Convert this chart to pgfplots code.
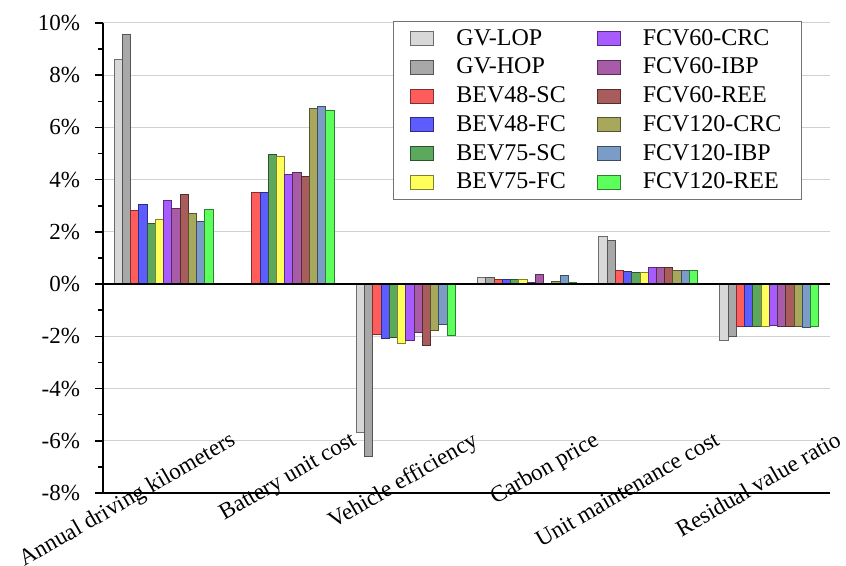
\documentclass[border=0pt]{standalone}
\usepackage{pgfplots}
\pgfplotsset{compat=1.18}
\usepackage{pgfplotstable}
\usepackage{fontspec}
\setmainfont{Liberation Serif}

\definecolor{cGVL}{HTML}{D8D8D8}
\definecolor{cGVH}{HTML}{A8A8A8}
\definecolor{cB48S}{HTML}{FF5C5C}
\definecolor{cB48F}{HTML}{5C5CFF}
\definecolor{cB75S}{HTML}{5CA85C}
\definecolor{cB75F}{HTML}{FFFF5C}
\definecolor{cF60C}{HTML}{A85CFF}
\definecolor{cF60I}{HTML}{A85CA8}
\definecolor{cF60R}{HTML}{A85C5C}
\definecolor{cF120C}{HTML}{A8A85C}
\definecolor{cF120I}{HTML}{7A9CC6}
\definecolor{cF120R}{HTML}{5CFF5C}

\pgfplotstableread{
cat GVLOP GVHOP BEV48SC BEV48FC BEV75SC BEV75FC FCV60CRC FCV60IBP FCV60REE FCV120CRC FCV120IBP FCV120REE
0 8.62 9.57 2.81 3.03 2.31 2.48 3.22 2.89 3.43 2.69 2.40 2.87
1 nan nan 3.51 3.49 4.95 4.88 4.19 4.26 4.14 6.72 6.82 6.64
2 -5.69 -6.62 -1.94 -2.10 -2.06 -2.26 -2.15 -1.85 -2.34 -1.79 -1.55 -1.97
3 0.27 0.25 0.19 0.19 0.19 0.19 0.06 0.38 0.03 0.09 0.32 0.05
4 1.82 1.66 0.51 0.48 0.45 0.45 0.62 0.65 0.62 0.53 0.53 0.51
5 -2.15 -1.99 -1.61 -1.61 -1.64 -1.62 -1.59 -1.62 -1.61 -1.64 -1.68 -1.63
}\datatable

\begin{document}
\begin{tikzpicture}
\path[use as bounding box] (-51.5pt,-36.5pt) rectangle (371.5pt,246.5pt);
\begin{axis}[
  anchor=south west, at={(0pt,0pt)},
  scale only axis,
  width=363.5pt, height=235pt,
  ybar=0pt, bar width=0.068,
  xmin=-0.5, xmax=5.5,
  ymin=-8, ymax=10,
  axis x line=bottom, axis y line=left,
  axis line style={line width=1pt, -},
  xtick={0,1,2,3,4,5},
  xticklabels={Annual driving kilometers, Battery unit cost, Vehicle efficiency, Carbon price, Unit maintenance cost, Residual value ratio},
  x tick style={draw=none},
  xticklabel style={font=\fontsize{11.6}{12}\selectfont, inner sep=0pt, xshift=32.5pt, yshift=35.5pt, rotate=30, anchor=north east},
  ytick={-8,-6,...,10},
  minor y tick num=1,
  tick align=outside,
  y tick style={line width=0.8pt, black},
  major tick length=4pt, minor tick length=2.5pt,
  ymajorgrids, major grid style={draw=black!18, line width=0.5pt},
  /pgf/number format/assume math mode=true,
  yticklabel={\pgfmathprintnumber{\tick}\%},
  yticklabel style={font=\fontsize{11.5}{12}\selectfont, xshift=-4pt},
  every axis plot/.append style={line width=0.5pt},
  area legend,
  legend columns=6, transpose legend,
  legend cell align=left,
  legend image code/.code={\draw[#1] (0pt,-3.5pt) rectangle (11.5pt,3.5pt); \path (-4pt,0pt) (17pt,0pt);},
  legend style={at={(0.9615,1.004)}, anchor=north east, draw=black!55, line width=0.5pt, fill=white,
    font=\fontsize{12}{12}\selectfont, row sep=0.9pt, inner xsep=4.5pt, inner ysep=1.8pt,
    /tikz/every even column/.append style={column sep=6pt},
    nodes={inner xsep=5.5pt}},
]
\addplot[fill=cGVL, draw=cGVL!50!black] table[x=cat, y=GVLOP] {\datatable}; \addlegendentry{GV-LOP}
\addplot[fill=cGVH, draw=cGVH!50!black] table[x=cat, y=GVHOP] {\datatable}; \addlegendentry{GV-HOP}
\addplot[fill=cB48S, draw=cB48S!50!black] table[x=cat, y=BEV48SC] {\datatable}; \addlegendentry{BEV48-SC}
\addplot[fill=cB48F, draw=cB48F!50!black] table[x=cat, y=BEV48FC] {\datatable}; \addlegendentry{BEV48-FC}
\addplot[fill=cB75S, draw=cB75S!50!black] table[x=cat, y=BEV75SC] {\datatable}; \addlegendentry{BEV75-SC}
\addplot[fill=cB75F, draw=cB75F!50!black] table[x=cat, y=BEV75FC] {\datatable}; \addlegendentry{BEV75-FC}
\addplot[fill=cF60C, draw=cF60C!50!black] table[x=cat, y=FCV60CRC] {\datatable}; \addlegendentry{FCV60-CRC}
\addplot[fill=cF60I, draw=cF60I!50!black] table[x=cat, y=FCV60IBP] {\datatable}; \addlegendentry{FCV60-IBP}
\addplot[fill=cF60R, draw=cF60R!50!black] table[x=cat, y=FCV60REE] {\datatable}; \addlegendentry{FCV60-REE}
\addplot[fill=cF120C, draw=cF120C!50!black] table[x=cat, y=FCV120CRC] {\datatable}; \addlegendentry{FCV120-CRC}
\addplot[fill=cF120I, draw=cF120I!50!black] table[x=cat, y=FCV120IBP] {\datatable}; \addlegendentry{FCV120-IBP}
\addplot[fill=cF120R, draw=cF120R!50!black] table[x=cat, y=FCV120REE] {\datatable}; \addlegendentry{FCV120-REE}
\draw[black, line width=1pt] (axis cs:-0.5,0) -- (axis cs:5.5,0);
\end{axis}
\end{tikzpicture}
\end{document}
